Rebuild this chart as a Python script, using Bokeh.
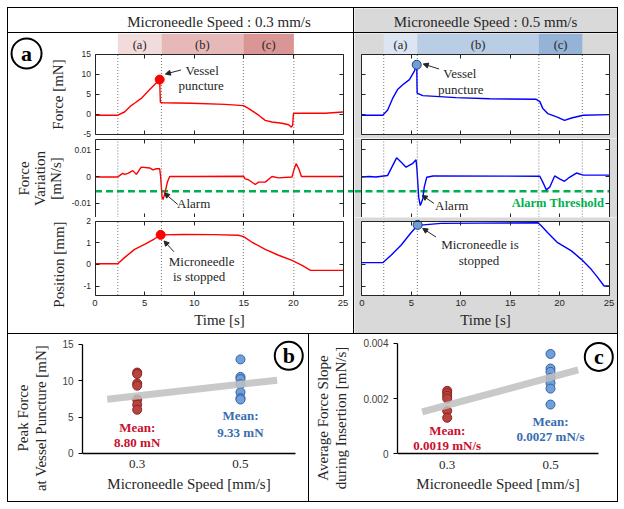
from bokeh.plotting import figure
from bokeh.layouts import row, column
from bokeh.models import (Range1d, Span, Arrow, NormalHead, FixedTicker,
                          PrintfTickFormatter, LinearAxis, Spacer)
from bokeh.core.properties import value
from bokeh.embed import file_html
from bokeh.resources import INLINE

# ---------------- data ----------------
speed_titles = ["Microneedle Speed : 0.3 mm/s", "Microneedle Speed : 0.5 mm/s"]
phase_names = ["(a)", "(b)", "(c)"]
phase_edges_03 = [2.3, 6.7, 14.95, 20.05]
phase_edges_05 = [2.2, 5.6, 17.9, 22.3]
alarm_threshold = -0.0055

t_force_03 = [0, 2.3, 2.97, 3.65, 3.99, 4.66, 5.51, 6.35, 6.52, 6.59, 6.86, 9.73, 13.1, 14.97,
              15.47, 16.49, 17.16, 17.84, 18.85, 19.53, 19.8, 19.93, 20.0, 20.2, 23.2, 25]
force_03 = [-0.3, -0.3, 0.5, 2.1, 2.7, 3.9, 6.1, 8.2, 8.6, 2.9, 2.8, 2.7, 2.4, 2.1,
            1.4, -0.3, -1.6, -2.0, -2.3, -2.7, -3.3, -2.7, 0.1, 0.2, 0.2, 0.5]
t_var_03 = [0, 2.3, 2.64, 2.8, 2.97, 3.31, 3.82, 4.16, 4.32, 4.66, 5.51, 5.84, 6.18, 6.52, 6.62,
            6.76, 6.86, 7.03, 7.3, 7.53, 9.73, 14.97, 15.14, 15.47, 16.15, 16.49, 17.16, 17.84,
            18.51, 19.86, 20.03, 20.27, 20.54, 20.81, 25]
var_03 = [-0.0002, -0.0002, 0.0008, 0.0012, 0.0008, 0.0012, 0.0022, 0.0008, 0.0016, 0.0035,
          0.0032, 0.0025, 0.0029, 0.0029, -0.0002, -0.0078, -0.0086, -0.0065, -0.0021, 0.0,
          0.0, 0.0001, -0.0009, -0.0012, -0.003, -0.0021, -0.0021, 0.0, -0.0005, -0.0002,
          0.0022, 0.0048, 0.0029, 0.0, 0.0]
t_pos_03 = [0, 2.3, 2.97, 3.99, 5.0, 6.01, 6.62, 9.0, 12.0, 14.46, 14.97, 15.8, 17.16, 18.5,
            19.86, 20.88, 21.72, 25]
pos_03 = [0.03, 0.03, 0.31, 0.69, 0.92, 1.18, 1.36, 1.38, 1.37, 1.34, 1.28, 1.03, 0.69, 0.42,
          0.18, -0.05, -0.28, -0.28]

t_force_05 = [0, 2.1, 2.6, 3.1, 3.6, 4.12, 4.8, 5.3, 5.54, 5.58, 6.15, 9.5, 12.9, 17.6, 18.0,
              18.3, 18.8, 19.7, 20.5, 21.2, 22.4, 25]
force_05 = [-0.3, -0.3, 1.0, 3.9, 6.1, 7.3, 8.6, 10.7, 12.3, 5.2, 4.6, 4.1, 3.8, 3.7, 3.1,
            1.4, 0.1, -0.7, -1.6, -1.0, -0.3, -0.15]
t_var_05 = [0, 0.74, 1.4, 2.6, 3.1, 3.5, 3.95, 4.46, 5.1, 5.47, 5.57, 5.74, 5.9, 6.15, 6.3,
            6.55, 7.2, 18.0, 18.3, 18.65, 19.0, 19.5, 20.0, 20.5, 21.0, 21.7, 22.4, 25]
var_05 = [-0.0002, 0.0, -0.0002, 0.0004, 0.0041, 0.007, 0.0054, 0.0035, 0.0048, 0.0063, 0.0023,
          -0.0078, -0.0109, -0.0084, -0.004, -0.0003, 0.0002, 0.0001, -0.0021, -0.005, -0.004,
          0.0002, -0.0009, -0.0018, -0.0003, 0.0013, 0.0005, 0.0005]
t_pos_05 = [0, 2.13, 2.94, 3.95, 4.96, 5.63, 8.0, 12.0, 17.8, 18.1, 18.8, 19.8, 21.2, 22.2,
            23.2, 23.85, 24.5, 25]
pos_05 = [0.08, 0.08, 0.42, 0.88, 1.46, 1.8, 1.89, 1.9, 1.92, 1.8, 1.46, 1.0, 0.62, 0.23,
          -0.23, -0.6, -1.0, -1.0]

puncture_03 = (6.52, 8.6)
puncture_05 = (5.54, 12.3)
stop_03 = (6.62, 1.36)
stop_05 = (5.63, 1.82)

speeds = [0.3, 0.5]
peak_force_03 = [11.1, 10.9, 9.6, 9.3, 7.4, 6.7, 6.0]
peak_force_05 = [12.9, 10.5, 10.2, 9.5, 8.4, 7.6, 7.4]
slope_03 = [0.00228, 0.00220, 0.00210, 0.00200, 0.00155, 0.00130]
slope_05 = [0.00362, 0.00309, 0.00297, 0.00275, 0.00256, 0.00236, 0.00178]
trend_b_x = [0.242, 0.571]
trend_b_y = [7.45, 10.05]
trend_c_x = [0.2516, 0.5536]
trend_c_y = [0.00151, 0.00304]
mean_peak_labels = ["8.80 mN", "9.33 mN"]
mean_slope_labels = ["0.0019 mN/s", "0.0027 mN/s"]

# ---------------- style ----------------
SERIF = "Liberation Serif"
SANS = "Liberation Sans"
GRAY = "#d9d9d9"
FRAME = "#262626"
TXT = "#262626"
RED = "#ff0000"
BLUE = "#0000ff"
GREEN = "#00b050"
DOT = "#555555"
phase_colors_03 = ["#f2dcdb", "#e6b9b8", "#d99694"]
phase_colors_05 = ["#dce6f2", "#b9cde5", "#95b3d7"]
MEAN_RED = "#c8102e"
MEAN_BLUE = "#3a6cb0"
XT_IN = [5, 10, 15, 20]


def hline(w):
    return Spacer(width=w, height=1, styles={"background-color": "black"})


def vline(h):
    return Spacer(width=1, height=h, styles={"background-color": "black"})


def base_fig(w, h, bl, br, bt, bb, xr, yr, border_fill, frame_fill, outline):
    p = figure(width=w, height=h, x_range=Range1d(*xr), y_range=Range1d(*yr),
               min_border_left=bl, min_border_right=br, min_border_top=bt,
               min_border_bottom=bb, toolbar_location=None, output_backend="svg",
               border_fill_color=border_fill, background_fill_color=frame_fill,
               outline_line_color=outline)
    p.xgrid.visible = False
    p.ygrid.visible = False
    return p


def in_axis(ax, ticks, loc=None, bounds="auto", labels=False, size="8.5px", standoff=4,
            line=True):
    ax.ticker = FixedTicker(ticks=ticks)
    if loc is not None:
        ax.fixed_location = loc
    ax.bounds = bounds
    ax.axis_line_color = FRAME if line else None
    ax.major_tick_in = 4
    ax.major_tick_out = 0
    ax.major_tick_line_color = FRAME
    ax.minor_tick_line_color = None
    if labels:
        ax.formatter = PrintfTickFormatter(format="%g")
        ax.major_label_text_font = SANS
        ax.major_label_text_font_size = size
        ax.major_label_text_color = TXT
        ax.major_label_standoff = standoff
    else:
        ax.formatter = PrintfTickFormatter(format="")
        ax.major_label_text_color = None
        ax.major_label_standoff = 0


def extra_axis(p, side, ticks, loc, bounds, line=True):
    ax = LinearAxis()
    in_axis(ax, ticks, loc, bounds, line=line)
    p.add_layout(ax, side)


def set_label(ax, text, standoff, size="15px", line_height=1.0):
    ax.axis_label = text
    ax.axis_label_text_font = SERIF
    ax.axis_label_text_font_size = size
    ax.axis_label_text_font_style = "normal"
    ax.axis_label_text_color = TXT
    ax.axis_label_standoff = standoff
    ax.axis_label_text_line_height = line_height


def title_axis(p, text, loc, bounds, standoff, side="left"):
    """Tick-less axis that only carries an axis title, centred on its bounds."""
    ax = LinearAxis(ticker=FixedTicker(ticks=[]), bounds=bounds, axis_line_color=None,
                    major_tick_line_color=None, minor_tick_line_color=None,
                    major_label_standoff=0)
    if loc is not None:
        ax.fixed_location = loc
    set_label(ax, text, standoff, line_height=1.1)
    p.add_layout(ax, side)


def note(p, xs, ys, texts, arrow, bold=False, color=TXT, size="13px"):
    p.text(x=xs, y=ys, text=texts, text_font=value(SERIF), text_font_size=size,
           text_align="center", text_baseline="middle", text_color=color,
           text_font_style="bold" if bold else "normal")
    if arrow is not None:
        p.add_layout(Arrow(end=NormalHead(size=5, fill_color=TXT, line_color=TXT),
                           x_start=arrow[0], y_start=arrow[1], x_end=arrow[2],
                           y_end=arrow[3], line_color=TXT, line_width=1))


def block(title, edges, colors, tf, f, tv, v, tp, pos, punct, stop, line_col, m_fill, m_line,
          left, W, xr, bg, notes):
    plot_bg = "white"
    # ---- title (frame spans the whole block; text centred over the plot area)
    pt = base_fig(W, 24, 0, 0, 0, 0, xr, (0, 1), bg, bg, None)
    pt.axis.visible = False
    pt.text(x=[12.5], y=[0.45], text=[title], text_font=value(SERIF), text_font_size="15px",
            text_align="center", text_baseline="middle", text_color=TXT)

    # ---- force, with the phase strip in the top 20 px
    fhi = 20.125
    pf = base_fig(W, 105, 0, 0, 0, 0, xr, (fhi - 105 / 4.0, fhi), bg, bg, None)
    pf.quad(left=[0], right=[25], bottom=[-5], top=[15], fill_color=plot_bg, line_color=None)
    pf.quad(left=edges[:-1], right=edges[1:], bottom=15, top=fhi, fill_color=colors,
            line_color=None)
    mids = [(edges[i] + edges[i + 1]) / 2 for i in range(3)]
    pf.text(x=mids, y=[17.25] * 3, text=phase_names, text_font=value(SERIF),
            text_font_size="12.5px", text_align="center", text_baseline="middle",
            text_color=TXT)
    pf.segment(x0=edges, y0=-5, x1=edges, y1=15, line_dash="1 2", line_color=DOT,
               line_width=0.8)
    pf.line(tf, f, line_color=line_col, line_width=1.4)
    pf.scatter([punct[0]], [punct[1]], size=9, fill_color=m_fill, line_color=m_line,
               line_width=1)
    in_axis(pf.left[0], [-5, 0, 5, 10, 15], 0, (-5, 15), labels=left)
    in_axis(pf.below[0], XT_IN, -5, (0, 25))
    extra_axis(pf, "right", [-5, 0, 5, 10, 15], 25, (-5, 15))
    extra_axis(pf, "above", XT_IN, 15, (0, 25))
    if left:
        set_label(pf.left[0], "Force [mN]", 13)

    # ---- force variation
    vhi = 38 / 2667.0
    vlo = vhi - 79 / 2667.0
    vb, vt = vlo + 0.5 / 2667, vhi - 0.5 / 2667
    pv = base_fig(W, 79, 0, 0, 0, 0, xr, (vlo, vhi), bg, bg, None)
    pv.quad(left=[0], right=[25], bottom=[vlo], top=[vhi], fill_color=plot_bg, line_color=None)
    for e in edges:
        pv.add_layout(Span(location=e, dimension="height", line_dash="1 2",
                           line_color=DOT, line_width=0.8))
    gx = [0, xr[1]] if left else [xr[0], 25]
    pv.line(gx, [alarm_threshold] * 2, line_color=GREEN, line_width=2.5, line_dash="7 4")
    pv.line(tv, v, line_color=line_col, line_width=1.4)
    in_axis(pv.left[0], [-0.01, 0, 0.01], 0, (vb, vt), labels=left)
    in_axis(pv.below[0], XT_IN, vb, (0, 25))
    extra_axis(pv, "right", [-0.01, 0, 0.01], 25, (vb, vt))
    extra_axis(pv, "above", XT_IN, vt, (0, 25))
    if left:
        set_label(pv.left[0], "Force\nVariation\n[mN/s]", 5, line_height=1.0)

    # ---- position (frame reaches the block bottom; time axis sits inside it)
    ppx = 21.67
    phi = 2 + 3.5 / ppx
    plo_ext = phi - 116 / ppx
    pline = 2 - 74 / ppx
    pp = base_fig(W, 116, 0, 0, 0, 0, xr, (plo_ext, phi), bg, bg, None)
    pp.quad(left=[0], right=[25], bottom=[pline], top=[2], fill_color=plot_bg, line_color=None)
    pp.segment(x0=edges, y0=pline, x1=edges, y1=2, line_dash="1 2", line_color=DOT,
               line_width=0.8)
    pp.line(tp, pos, line_color=line_col, line_width=1.4)
    pp.scatter([stop[0]], [stop[1]], size=9, fill_color=m_fill, line_color=m_line,
               line_width=1)
    in_axis(pp.left[0], [-1, 0, 1, 2], 0, (pline, 2), labels=left)
    if left:
        title_axis(pp, "Position [mm]", 0, (-1.9, 1.9), 29)
    extra_axis(pp, "right", [-1, 0, 1, 2], 25, (pline, 2))
    extra_axis(pp, "above", XT_IN, 2, (0, 25))
    in_axis(pp.below[0], [0, 5, 10, 15, 20, 25], pline, (0, 25), labels=True, size="9.5px",
            standoff=5)
    set_label(pp.below[0], "Time [s]", 2, size="15px")

    note(pf, *notes["force"])
    note(pv, *notes["var"])
    note(pp, *notes["pos"])
    return column(pt, hline(W), pf, pv, pp), pf, pv


notes_03 = {
    "force": ([10.8, 10.7], [11.0, 7.2], ["Vessel", "puncture"], (8.67, 11.0, 7.1, 10.0)),
    "var": ([9.95], [-0.0103], ["Alarm"], (8.34, -0.0105, 7.0, -0.0062)),
    "pos": ([10.75, 10.5], [0.12, -0.58], ["Microneedle", "is stopped"], (7.96, 0.58, 6.96, 1.08)),
}
notes_05 = {
    "force": ([9.9, 10.0], [10.1, 6.25], ["Vessel", "puncture"], (7.8, 11.25, 6.2, 12.5)),
    "var": ([9.08], [-0.0109], ["Alarm"], (7.29, -0.0101, 6.1, -0.0071)),
    "pos": ([11.94, 11.84], [0.925, 0.19], ["Microneedle is", "stopped"], (7.49, 1.26, 6.14, 1.66)),
}

XR_L = (-8.720, 26.058)
XR_R = (-0.759, 25.860)
left_block, pf_L, pv_L = block(speed_titles[0], phase_edges_03, phase_colors_03,
                               t_force_03, force_03, t_var_03, var_03, t_pos_03, pos_03,
                               puncture_03, stop_03, RED, RED, RED, True, 345, XR_L,
                               "white", notes_03)
right_block, pf_R, pv_R = block(speed_titles[1], phase_edges_05, phase_colors_05,
                                t_force_05, force_05, t_var_05, var_05, t_pos_05, pos_05,
                                puncture_05, stop_05, BLUE, "#6d9ed8", "#1f3f7a", False,
                                263, XR_R, GRAY, notes_05)

pv_R.text(x=[19.84], y=[-0.0099], text=["Alarm Threshold"], text_font=value(SERIF),
          text_font_size="12.5px", text_font_style="bold", text_align="center",
          text_baseline="middle", text_color=GREEN)

# panel letter "a"
pf_L.scatter([-6.9], [15.125], size=30, fill_color=None, line_color="black", line_width=2)
pf_L.text(x=[-6.9], y=[15.125], text=["a"], text_font=value(SERIF), text_font_size="22px",
          text_font_style="bold", text_align="center", text_baseline="middle",
          text_color="black")


# ---------------- bottom panels ----------------
def scatter_panel(W, bl, xr, yr, ybounds, xbounds, yticks, g03, g05, tx, ty, means, mean_pos,
                  letter_pos, ylabel, lab_bounds, lab_standoff):
    p = base_fig(W, 167, bl, 0, 0, 0, xr, yr, "white", "white", None)
    ya = p.left[0]
    ya.ticker = FixedTicker(ticks=yticks)
    ya.formatter = PrintfTickFormatter(format="%g")
    ya.bounds = ybounds
    ya.axis_line_color = "black"
    ya.axis_line_width = 1.3
    ya.major_tick_out = 4
    ya.major_tick_in = 0
    ya.major_tick_line_color = "black"
    ya.minor_tick_line_color = None
    ya.major_label_text_font = SANS
    ya.major_label_text_font_size = "10px"
    ya.major_label_text_color = "#404040"
    ya.major_label_standoff = 5
    title_axis(p, ylabel, None, lab_bounds, lab_standoff)

    xa = p.below[0]
    xa.fixed_location = 0
    xa.ticker = FixedTicker(ticks=speeds)
    xa.formatter = PrintfTickFormatter(format="%g")
    xa.bounds = xbounds
    xa.axis_line_color = "black"
    xa.axis_line_width = 1.3
    xa.major_tick_out = 0
    xa.major_tick_in = 0
    xa.minor_tick_line_color = None
    xa.major_label_text_font = SERIF
    xa.major_label_text_font_size = "13px"
    xa.major_label_text_color = TXT
    xa.major_label_standoff = 7
    set_label(xa, "Microneedle Speed [mm/s]", 4)

    p.scatter([speeds[0]] * len(g03), g03, size=9, fill_color="#b8433f", line_color="#8a2522",
              line_width=1)
    p.scatter([speeds[1]] * len(g05), g05, size=9, fill_color="#6fa0dc", line_color="#35609e",
              line_width=1)
    p.line(tx, ty, line_color="#bfbfbf", line_width=7, line_alpha=0.85)
    p.text(x=[speeds[0], speeds[0]], y=mean_pos[0], text=["Mean:", means[0]],
           text_font=value(SERIF), text_font_size="13px", text_font_style="bold",
           text_align="center", text_baseline="middle", text_color=MEAN_RED)
    p.text(x=[speeds[1], speeds[1]], y=mean_pos[1], text=["Mean:", means[1]],
           text_font=value(SERIF), text_font_size="13px", text_font_style="bold",
           text_align="center", text_baseline="middle", text_color=MEAN_BLUE)
    p.scatter([letter_pos[0]], [letter_pos[1]], size=28, fill_color=None, line_color="black",
              line_width=2)
    p.text(x=[letter_pos[0]], y=[letter_pos[1]], text=[letter_pos[2]], text_font=value(SERIF),
           text_font_size="22px", text_font_style="bold", text_align="center",
           text_baseline="middle", text_color="black")
    return p


fig_b = scatter_panel(300, 74, (0.1941, 0.6317), (-6.582, 16.317), (0, 15), (0.1941, 0.6065),
                      [0, 5, 10, 15], peak_force_03, peak_force_05, trend_b_x, trend_b_y,
                      mean_peak_labels, ([3.57, 1.51], [5.17, 2.88]), (0.5935, 13.4, "b"),
                      "Peak Force\nat Vessel Puncture [mN]", (-4.6, 15.02), 11)
fig_c = scatter_panel(308, 88, (0.2038, 0.6297), (-0.001745, 0.004327), (0, 0.004),
                      (0.2038, 0.593), [0, 0.002, 0.004], slope_03, slope_05, trend_c_x,
                      trend_c_y, mean_slope_labels, ([0.000847, 0.000302], [0.001175, 0.00063]),
                      (0.5935, 0.003513, "c"), "Average Force Slope\nduring Insertion [mN/s]",
                      (-0.00124, 0.004), 12)

top = row(vline(325), left_block, vline(325), right_block, vline(325))
bottom = row(vline(167), fig_b, vline(167), fig_c, vline(167))
page = column(hline(611), top, hline(611), bottom, hline(611))
outer = column(Spacer(width=618, height=7), row(Spacer(width=7, height=495), page))

open("out.html", "w").write(file_html(outer, INLINE))
